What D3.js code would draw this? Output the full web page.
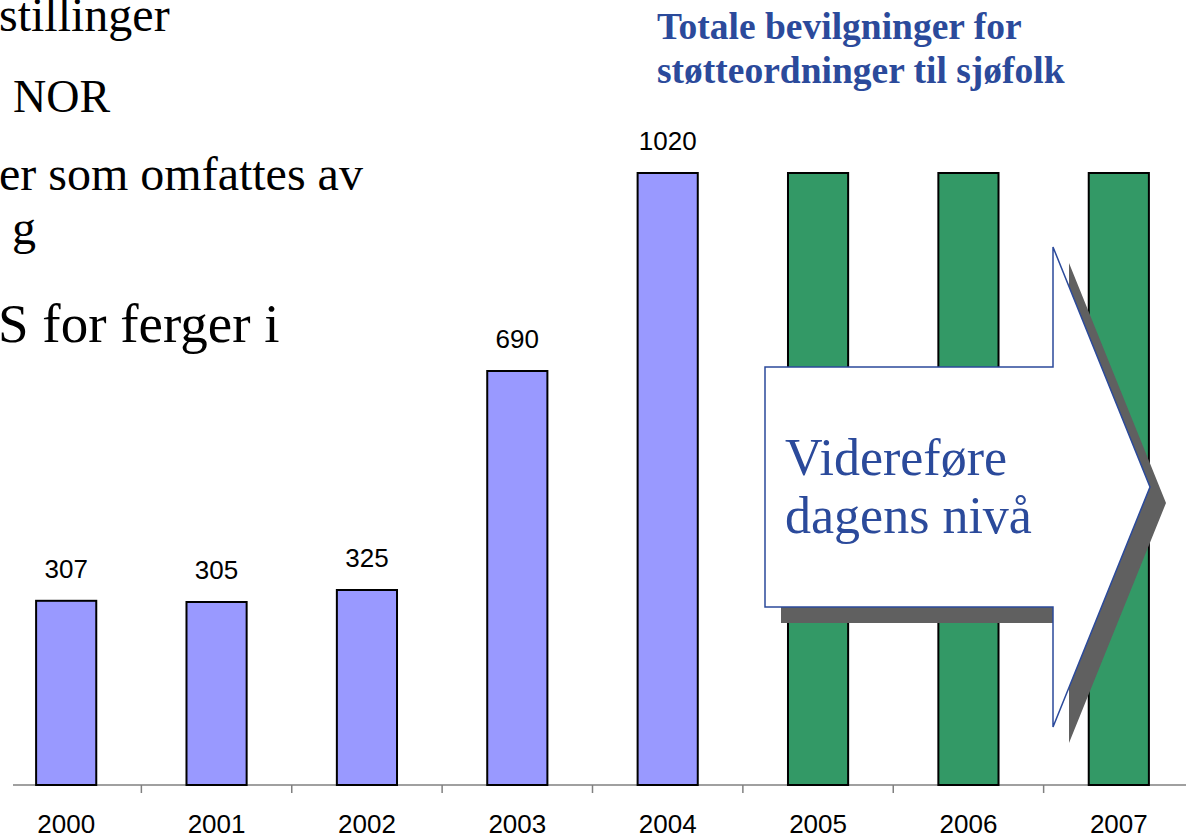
<!DOCTYPE html>
<html>
<head>
<meta charset="utf-8">
<script src="https://cdn.jsdelivr.net/npm/d3@7"></script>
<style>
  html, body { margin: 0; padding: 0; background: #fff; }
  svg { display: block; }
</style>
</head>
<body>
<svg id="chart" width="1186" height="837"></svg>
<script>
const years = ['2000', '2001', '2002', '2003', '2004', '2005', '2006', '2007'];
const values = [307, 305, 325, 690, 1020, 1020, 1020, 1020];
const valueLabels = ['307', '305', '325', '690', '1020', '', '', ''];
const barKinds = ['actual', 'actual', 'actual', 'actual', 'actual', 'plan', 'plan', 'plan'];
const titleLines = ['Totale bevilgninger for', 'støtteordninger til sjøfolk'];
const arrowLines = ['Videreføre', 'dagens nivå'];
const slideLines = [
  { text: 'stillinger', x: -1, y: 31, size: 48 },
  { text: 'NOR', x: 13, y: 112, size: 46 },
  { text: 'er som omfattes av', x: -1, y: 190, size: 48 },
  { text: 'g', x: 12, y: 244, size: 48 },
  { text: 'S for ferger i', x: -2, y: 342, size: 55 }
];

const width = 1186, height = 837;
const blue = '#2b4a9b';
const colors = { actual: '#9999ff', plan: '#339966' };

const svg = d3.select('#chart');

const x = d3.scaleBand()
  .domain(years)
  .range([-9, 1194])
  .paddingInner(0.6)
  .paddingOuter(0.3);

const y = d3.scaleLinear()
  .domain([0, 1020])
  .range([785, 173]);

const step = x.step();

// background slide text, cut off at the left edge
svg.append('g')
  .selectAll('text')
  .data(slideLines)
  .join('text')
  .attr('x', d => d.x)
  .attr('y', d => d.y)
  .attr('font-family', '"Liberation Serif", "Times New Roman", serif')
  .attr('font-size', d => d.size)
  .attr('fill', '#000')
  .text(d => d.text);

// axis line + ticks between categories
const axis = svg.append('g');
axis.append('line')
  .attr('x1', 13)
  .attr('x2', width)
  .attr('y1', y(0))
  .attr('y2', y(0))
  .attr('stroke', '#808080')
  .attr('stroke-width', 1.5);

axis.selectAll('.tick')
  .data(years.slice(0, -1))
  .join('line')
  .attr('class', 'tick')
  .attr('x1', d => x(d) + x.bandwidth() / 2 + step / 2)
  .attr('x2', d => x(d) + x.bandwidth() / 2 + step / 2)
  .attr('y1', y(0))
  .attr('y2', y(0) + 8)
  .attr('stroke', '#808080')
  .attr('stroke-width', 1.5);

axis.selectAll('.year')
  .data(years)
  .join('text')
  .attr('class', 'year')
  .attr('x', d => x(d) + x.bandwidth() / 2)
  .attr('y', 833)
  .attr('text-anchor', 'middle')
  .attr('font-family', 'Arial, "Liberation Sans", sans-serif')
  .attr('font-size', 26)
  .attr('fill', '#000')
  .text(d => d);

// bars
svg.append('g')
  .selectAll('rect')
  .data(years)
  .join('rect')
  .attr('x', d => x(d))
  .attr('y', (d, i) => y(values[i]))
  .attr('width', x.bandwidth())
  .attr('height', (d, i) => y(0) - y(values[i]))
  .attr('fill', (d, i) => colors[barKinds[i]])
  .attr('stroke', '#000')
  .attr('stroke-width', 2);

svg.append('g')
  .selectAll('text')
  .data(years)
  .join('text')
  .attr('x', d => x(d) + x.bandwidth() / 2)
  .attr('y', (d, i) => y(values[i]) - 23)
  .attr('text-anchor', 'middle')
  .attr('font-family', 'Arial, "Liberation Sans", sans-serif')
  .attr('font-size', 26)
  .attr('fill', '#000')
  .text((d, i) => valueLabels[i]);

// title
svg.append('g')
  .selectAll('text')
  .data(titleLines)
  .join('text')
  .attr('x', 657)
  .attr('y', (d, i) => 39 + i * 44)
  .attr('font-family', '"Liberation Serif", "Times New Roman", serif')
  .attr('font-weight', 'bold')
  .attr('font-size', 37.5)
  .attr('fill', blue)
  .text(d => d);

// block arrow with drop shadow
const arrowPts = [
  [765, 367], [1053, 367], [1053, 247], [1150, 487],
  [1053, 727], [1053, 607], [765, 607]
];
const arrowPath = d3.line()(arrowPts) + 'Z';

svg.append('path')
  .attr('d', arrowPath)
  .attr('transform', 'translate(16,16)')
  .attr('fill', '#606060');

svg.append('path')
  .attr('d', arrowPath)
  .attr('fill', '#fff')
  .attr('stroke', blue)
  .attr('stroke-width', 1.5);

svg.append('g')
  .selectAll('text')
  .data(arrowLines)
  .join('text')
  .attr('x', 785)
  .attr('y', (d, i) => 475 + i * 58)
  .attr('font-family', '"Liberation Serif", "Times New Roman", serif')
  .attr('font-size', 52)
  .attr('fill', blue)
  .text(d => d);
</script>
</body>
</html>
